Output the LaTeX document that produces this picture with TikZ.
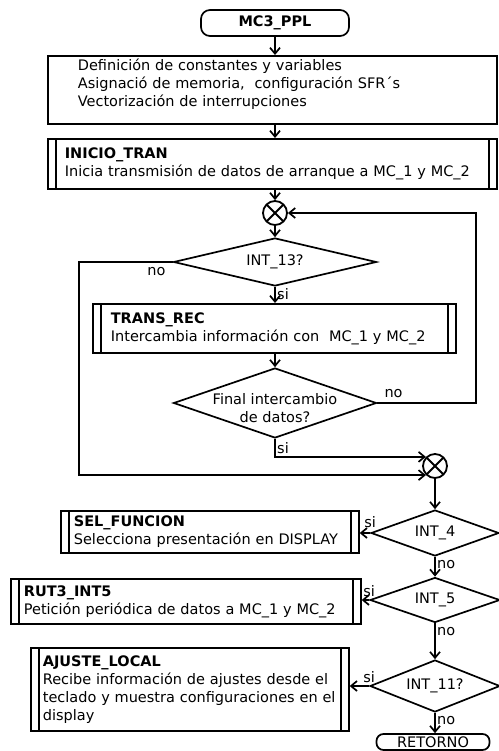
\documentclass[tikz,border=0pt]{standalone}
\usepackage{fontspec}
\setmainfont{DejaVu Sans}
\usetikzlibrary{shapes.geometric,arrows.meta,positioning}

\tikzset{
  txt/.style={font=\fontsize{14.5}{18}\selectfont},
  term/.style={txt, draw, line width=1.7pt, rounded corners=9pt, inner sep=0pt},
  procbox/.style={txt, draw, line width=1.7pt, anchor=north west, align=left, inner ysep=0pt},
  subr/.style={procbox, path picture={
      \draw[line width=1.3pt] ([xshift=8pt]path picture bounding box.north west) -- ([xshift=8pt]path picture bounding box.south west);
      \draw[line width=1.3pt] ([xshift=-8pt]path picture bounding box.north east) -- ([xshift=-8pt]path picture bounding box.south east);}},
  decision/.style={txt, draw, line width=1.7pt, diamond, aspect=2, inner sep=0pt},
  junction/.style={draw, line width=1.8pt, circle, minimum size=24pt, inner sep=0pt, path picture={
      \draw[line width=2pt] (path picture bounding box.north west) -- (path picture bounding box.south east)
        (path picture bounding box.south west) -- (path picture bounding box.north east);}},
  flow/.style={line width=1.7pt, -{Straight Barb[length=6pt,width=10pt]}},
  lbl/.style={txt, inner sep=1pt}
}

\begin{document}
\begin{tikzpicture}[x=1pt,y=-1pt]
\useasboundingbox (0,0) rectangle (498,751);

\node[term, minimum width=148pt, minimum height=26pt] (start) at (275,23) {\bfseries MC3\_PPL};
\node[procbox, inner xsep=30pt, text width=389pt, minimum height=68pt] (init) at (47,55)
  {Definición de constantes y variables\\Asignació de memoria,\ \ configuración SFR´s\\Vectorización de interrupciones\rule[-15pt]{0pt}{15pt}};
\node[subr, inner xsep=17pt, text width=415pt, minimum height=50pt] (inicio) at (47,138)
  {\textbf{INICIO\_TRAN}\\Inicia transmisión de datos de arranque a MC\_1 y MC\_2};
\node[junction] (j1) at (275,213) {};
\node[decision, minimum width=203pt, minimum height=48pt] (d1) at (275,262) {INT\_13?};
\node[subr, inner xsep=18pt, text width=327pt, minimum height=49pt] (trans) at (92,303)
  {\textbf{TRANS\_REC}\\Intercambia información con\ \ MC\_1 y MC\_2};
\node[decision, minimum width=203pt, minimum height=70pt] (d2) at (275,403) {};
\node[txt, align=center, inner sep=0pt] (d2txt) at (275,408) {Final intercambio\\de datos?};
\node[junction] (j2) at (435,466) {};
\node[decision, minimum width=128pt, minimum height=46pt] (d3) at (435,533) {INT\_4};
\node[subr, inner xsep=13pt, text width=272pt, minimum height=42pt] (sel) at (60,510)
  {\textbf{SEL\_FUNCION}\\Selecciona presentación en DISPLAY};
\node[decision, minimum width=130pt, minimum height=45pt] (d4) at (435,600) {INT\_5};
\node[subr, inner xsep=13pt, text width=324pt, minimum height=45pt] (rut) at (10,578)
  {\textbf{RUT3\_INT5}\\Petición periódica de datos a MC\_1 y MC\_2};
\node[decision, minimum width=130pt, minimum height=52pt] (d5) at (435,686) {INT\_11?};
\node[subr, inner xsep=12pt, text width=294pt, minimum height=83pt] (ajuste) at (30,647)
  {\textbf{AJUSTE\_LOCAL}\\Recibe información de ajustes desde el\\teclado y muestra configuraciones en el\\display};
\node[term, rounded corners=7pt, minimum width=113pt, minimum height=16pt] (ret) at (433,742) {RETORNO};

\coordinate (loopL) at (79,0);
\coordinate (loopR) at (476,0);

\draw[flow] (start) -- (init.north -| start);
\draw[flow] (init.south -| j1) -- (inicio.north -| j1);
\draw[flow] (inicio.south -| j1) -- (j1);
\draw[flow] (j1) -- (d1);
\draw[flow] (d1) -- (trans.north -| d1);
\draw[flow] (trans.south -| d2) -- (d2);
\draw[flow] (d1.west) -- (d1.west -| loopL) |- (j2.south west);
\draw[flow] (d2.south) |- (j2.north west);
\draw[flow] (d2.east) -- (d2.east -| loopR) |- (j1);
\draw[flow] (j2) -- (d3);
\draw[flow] (d3.west) -- (d3.west -| sel.east);
\draw[flow] (d3) -- (d4);
\draw[flow] (d4.west) -- (d4.west -| rut.east);
\draw[flow] (d4) -- (d5);
\draw[flow] (d5.west) -- (d5.west -| ajuste.east);
\draw[flow] (d5) -- (ret.north -| d5);

\node[lbl, below left=4pt and 6pt of d1.west] (no1) {no};
\node[lbl, below right=0pt and 1pt of d1.south] (si1) {si};
\node[lbl, above right=4pt and 6pt of d2.east] (no2) {no};
\node[lbl, below right=2pt and 1pt of d2.south] (si2) {si};
\node[lbl, above=4pt of d3.west] (si3) {si};
\node[lbl, below right=2pt and 1pt of d3.south] (no3) {no};
\node[lbl, above=2pt of d4.west] (si4) {si};
\node[lbl, below right=3pt and 1pt of d4.south] (no4) {no};
\node[lbl, above=2pt of d5.west] (si5) {si};
\node[lbl, below right=2pt and 1pt of d5.south] (no5) {no};
\end{tikzpicture}
\end{document}
